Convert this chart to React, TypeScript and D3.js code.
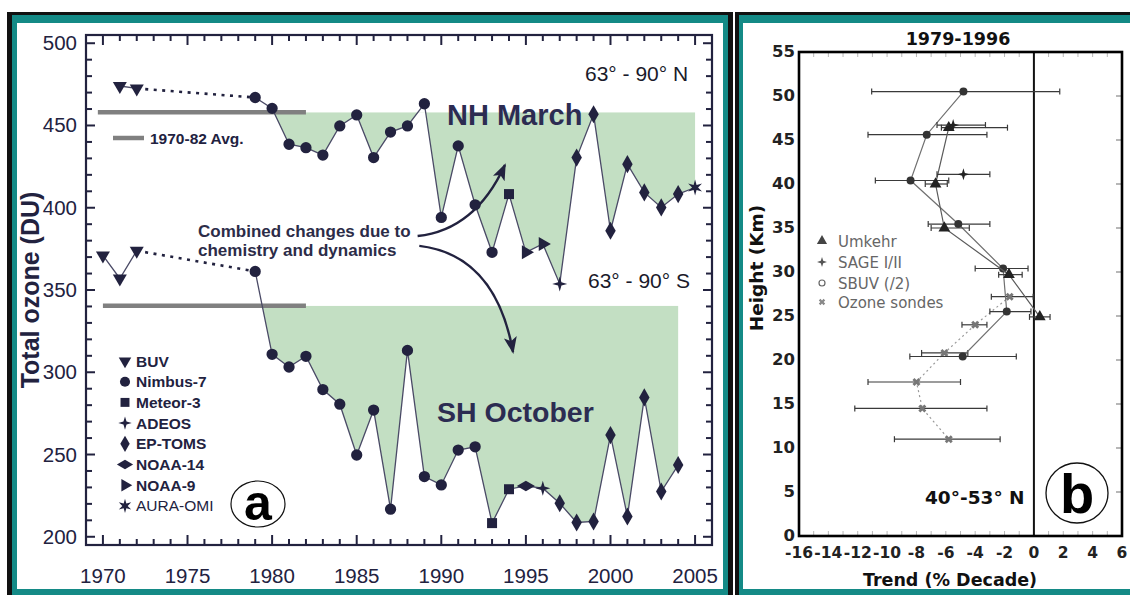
import React from 'react';
import * as d3 from 'd3';

// ---- panel a : polar total ozone ----
const nhYears = [1971, 1972, 1979, 1980, 1981, 1982, 1983, 1984, 1985, 1986, 1987, 1988, 1989, 1990, 1991, 1992, 1993, 1994, 1995, 1996, 1997, 1998, 1999, 2000, 2001, 2002, 2003, 2004, 2005];
const nhOzone = [474, 472.5, 467, 460.4, 438.6, 436.5, 432, 449.7, 456.4, 430.5, 446, 449.7, 463.2, 394.1, 437.6, 401.8, 372.9, 408.3, 372.9, 378, 353.7, 430.5, 456.8, 386, 426.5, 409.3, 400.2, 408.3, 412.3];
const nhSensor = ['BUV', 'BUV', 'Nimbus-7', 'Nimbus-7', 'Nimbus-7', 'Nimbus-7', 'Nimbus-7', 'Nimbus-7', 'Nimbus-7', 'Nimbus-7', 'Nimbus-7', 'Nimbus-7', 'Nimbus-7', 'Nimbus-7', 'Nimbus-7', 'Nimbus-7', 'Nimbus-7', 'Meteor-3', 'NOAA-9', 'NOAA-9', 'ADEOS', 'EP-TOMS', 'EP-TOMS', 'EP-TOMS', 'EP-TOMS', 'EP-TOMS', 'EP-TOMS', 'EP-TOMS', 'AURA-OMI'];

const shYears = [1970, 1971, 1972, 1979, 1980, 1981, 1982, 1983, 1984, 1985, 1986, 1987, 1988, 1989, 1990, 1991, 1992, 1993, 1994, 1995, 1996, 1997, 1998, 1999, 2000, 2001, 2002, 2003, 2004];
const shOzone = [371, 357, 373.9, 361.3, 310.9, 303.2, 309.7, 289.5, 280.6, 249.7, 277, 216.8, 313.3, 236.6, 231.5, 252.7, 254.7, 208.3, 228.9, 230.9, 229.5, 220.4, 208.7, 209.3, 261.8, 212.3, 284.7, 227.5, 243.6];
const shSensor = ['BUV', 'BUV', 'BUV', 'Nimbus-7', 'Nimbus-7', 'Nimbus-7', 'Nimbus-7', 'Nimbus-7', 'Nimbus-7', 'Nimbus-7', 'Nimbus-7', 'Nimbus-7', 'Nimbus-7', 'Nimbus-7', 'Nimbus-7', 'Nimbus-7', 'Nimbus-7', 'Meteor-3', 'Meteor-3', 'NOAA-14', 'ADEOS', 'EP-TOMS', 'EP-TOMS', 'EP-TOMS', 'EP-TOMS', 'EP-TOMS', 'EP-TOMS', 'EP-TOMS', 'EP-TOMS'];

const nhAvg = 458;
const shAvg = 340.5;
const nhAvgSpan = [1969.7, 1982];
const shAvgSpan = [1970, 1982];

const yearLabels = [1970, 1975, 1980, 1985, 1990, 1995, 2000, 2005];
const ozoneLabels = [200, 250, 300, 350, 400, 450, 500];
const sensorNames = ['BUV', 'Nimbus-7', 'Meteor-3', 'ADEOS', 'EP-TOMS', 'NOAA-14', 'NOAA-9', 'AURA-OMI'];

// ---- panel b : trend profile 1979-1996, 40-53N ----
const umkehrHeight = [46.4, 40.0, 35.0, 29.7, 24.9];
const umkehrTrend = [-5.8, -6.7, -6.1, -1.7, 0.4];
const umkehrLow = [-6.3, -7.4, -7.0, -2.4, -0.3];
const umkehrHigh = [-1.8, -5.9, -4.4, -0.8, 1.1];

const sageHeight = [46.7, 41.1];
const sageTrend = [-5.5, -4.8];
const sageLow = [-6.6, -6.6];
const sageHigh = [-3.3, -3.0];

const sbuvHeight = [50.5, 45.6, 40.4, 35.45, 30.4, 25.5, 20.4];
const sbuvTrend = [-4.8, -7.3, -8.4, -5.15, -2.1, -1.85, -4.85];
const sbuvLow = [-11.05, -11.3, -10.8, -7.2, -4.0, -3.0, -8.45];
const sbuvHigh = [1.76, -3.2, -5.8, -3.0, -0.4, -0.2, -1.2];

const sondeHeight = [27.2, 24.0, 20.8, 17.5, 14.5, 11.0];
const sondeTrend = [-1.65, -4.0, -6.1, -8.0, -7.6, -5.8];
const sondeLow = [-2.9, -4.9, -7.65, -11.3, -12.2, -9.5];
const sondeHigh = [-0.05, -3.2, -4.5, -5.0, -3.2, -2.3];

const trendLabels = [-16, -14, -12, -10, -8, -6, -4, -2, 0, 2, 4, 6];
const heightLabels = [0, 5, 10, 15, 20, 25, 30, 35, 40, 45, 50, 55];

const NAVY = '#22223f';
const TEAL = '#148a86';
const GREEN = '#c3dfc3';
const SANS = '"Liberation Sans", Arial, Helvetica, sans-serif';
const DJV = '"DejaVu Sans", Verdana, sans-serif';

const starPath = (n: number, ro: number, ri: number) => {
  const pts: string[] = [];
  for (let k = 0; k < 2 * n; k++) {
    const a = (k * Math.PI) / n - Math.PI / 2;
    const r = k % 2 ? ri : ro;
    pts.push(`${(r * Math.cos(a)).toFixed(2)},${(r * Math.sin(a)).toFixed(2)}`);
  }
  return 'M' + pts.join('L') + 'Z';
};

const sensorSymbol = (s: string, k = 1): { d: string; rot: number } => {
  switch (s) {
    case 'BUV': return { d: d3.symbol(d3.symbolTriangle, 85 * k)()!, rot: 180 };
    case 'Nimbus-7': return { d: d3.symbol(d3.symbolCircle, 100 * k)()!, rot: 0 };
    case 'Meteor-3': return { d: d3.symbol(d3.symbolSquare, 100 * k)()!, rot: 0 };
    case 'ADEOS': return { d: starPath(4, 7.5 * Math.sqrt(k), 2.4 * Math.sqrt(k)), rot: 0 };
    case 'EP-TOMS': return { d: d3.symbol(d3.symbolDiamond, 95 * k)()!, rot: 0 };
    case 'NOAA-14': return { d: d3.symbol(d3.symbolDiamond, 95 * k)()!, rot: 90 };
    case 'NOAA-9': return { d: d3.symbol(d3.symbolTriangle, 85 * k)()!, rot: 90 };
    default: return { d: starPath(6, 8 * Math.sqrt(k), 3 * Math.sqrt(k)), rot: 0 };
  }
};

const App = () => {
  // panel a scales
  const x = d3.scaleLinear().domain([1969, 2006]).range([86, 712]);
  const y = d3.scaleLinear().domain([195, 505]).range([545, 35]);
  // panel b scales
  const xb = d3.scaleLinear().domain([-16, 6]).range([799, 1122]);
  const yb = d3.scaleLinear().domain([0, 55]).range([536, 52]);

  const line = d3.line<[number, number]>().x(d => x(d[0])).y(d => y(d[1]));

  const hemisphere = (key: string, years: number[], vals: number[], sensors: string[], avg: number, span: number[]) => {
    const pts = years.map((yr, i) => [yr, vals[i]] as [number, number]);
    const buv = pts.filter((_, i) => sensors[i] === 'BUV');
    const rest = pts.filter((_, i) => sensors[i] !== 'BUV');
    const area = d3.area<[number, number]>().x(d => x(d[0])).y0(y(avg)).y1(d => y(d[1]));
    return (
      <g key={key}>
        <clipPath id={`clip-${key}`}>
          <rect x={x(rest[0][0])} y={y(avg)} width={x(2006) - x(rest[0][0])} height={545 - y(avg)} />
        </clipPath>
        <path d={area(rest)!} fill={GREEN} clipPath={`url(#clip-${key})`} />
        <line x1={x(span[0])} x2={x(span[1])} y1={y(avg)} y2={y(avg)} stroke="#808080" strokeWidth={4.5} />
        <path d={line(buv)!} fill="none" stroke="#4a4a66" strokeWidth={1.3} />
        <path d={line([buv[buv.length - 1], rest[0]])!} fill="none" stroke={NAVY} strokeWidth={2.6} strokeDasharray="3 5.5" />
        <path d={line(rest)!} fill="none" stroke="#4a4a66" strokeWidth={1.3} />
        {pts.map((p, i) => {
          const s = sensorSymbol(sensors[i]);
          return <path key={i} d={s.d} fill={NAVY} transform={`translate(${x(p[0])},${y(p[1])}) rotate(${s.rot})`} />;
        })}
      </g>
    );
  };

  const yearTicks = d3.range(1970, 2006);
  const ozoneTicks = d3.range(200, 501, 10);

  const profile = (key: string, hs: number[], ts: number[], lo: number[], hi: number[], marker: React.ReactNode, lineStyle: any) => (
    <g key={key}>
      {lineStyle && (
        <path d={d3.line<number>().x((_, i) => xb(ts[i])).y(h => yb(h))(hs)!} fill="none" {...lineStyle} />
      )}
      {hs.map((h, i) => (
        <g key={i}>
          <line x1={xb(lo[i])} x2={xb(hi[i])} y1={yb(h)} y2={yb(h)} stroke="#3a3a3a" strokeWidth={1.2} />
          <line x1={xb(lo[i])} x2={xb(lo[i])} y1={yb(h) - 3} y2={yb(h) + 3} stroke="#3a3a3a" strokeWidth={1.2} />
          <line x1={xb(hi[i])} x2={xb(hi[i])} y1={yb(h) - 3} y2={yb(h) + 3} stroke="#3a3a3a" strokeWidth={1.2} />
          <g transform={`translate(${xb(ts[i])},${yb(h)})`}>{marker}</g>
        </g>
      ))}
    </g>
  );

  const triUp = d3.symbol(d3.symbolTriangle, 60)()!;
  const cross = d3.symbol(d3.symbolCross, 40)()!;
  const upperArrow = `M${x(1988.6)},${y(382.8)} Q${x(1992)},${y(386.5)} ${x(1993.76)},${y(426)}`;
  const lowerArrow = `M${x(1988.7)},${y(376.8)} Q${x(1993.2)},${y(371.3)} ${x(1994.24)},${y(312.3)}`;

  return (
    <svg width={1130} height={595} style={{ position: 'absolute', left: 0, top: 0, background: '#fff' }}>
      <defs>
        <marker id="head" markerUnits="userSpaceOnUse" markerWidth={18} markerHeight={14} refX={15} refY={6.5} orient="auto">
          <path d="M0,0 L17,6.5 L0,13 L4,6.5 Z" fill={NAVY} />
        </marker>
      </defs>

      {/* frames */}
      <rect x={7} y={12} width={726} height={583} fill="#111" />
      <rect x={12} y={15} width={716} height={580} fill={TEAL} />
      <rect x={17} y={23} width={706} height={566} fill="#fff" />
      <rect x={735} y={12} width={395} height={583} fill="#111" />
      <rect x={739} y={15} width={391} height={580} fill={TEAL} />
      <rect x={743} y={23} width={387} height={566} fill="#fff" />

      {/* ===== panel a ===== */}
      {hemisphere('nh', nhYears, nhOzone, nhSensor, nhAvg, nhAvgSpan)}
      {hemisphere('sh', shYears, shOzone, shSensor, shAvg, shAvgSpan)}

      <rect x={86} y={35} width={626} height={510} fill="none" stroke={NAVY} strokeWidth={2.2} />
      {yearTicks.map(t => {
        const len = t % 5 === 0 ? 10 : 6;
        return (
          <g key={t} stroke={NAVY} strokeWidth={2}>
            <line x1={x(t)} x2={x(t)} y1={545} y2={545 - len} />
            <line x1={x(t)} x2={x(t)} y1={35} y2={35 + len} />
          </g>
        );
      })}
      {ozoneTicks.map(t => {
        const len = t % 50 === 0 ? 9 : 6;
        return (
          <g key={t} stroke={NAVY} strokeWidth={2}>
            <line x1={86} x2={86 + len} y1={y(t)} y2={y(t)} />
            <line x1={712} x2={712 - len} y1={y(t)} y2={y(t)} />
          </g>
        );
      })}
      {yearLabels.map(t => (
        <text key={t} x={x(t)} y={583} textAnchor="middle" fontFamily={SANS} fontSize={20.5} fill={NAVY}>{t}</text>
      ))}
      {ozoneLabels.map(t => (
        <text key={t} x={77} y={y(t) + 7} textAnchor="end" fontFamily={SANS} fontSize={20.5} fill={NAVY}>{t}</text>
      ))}
      <text transform="translate(39,290) rotate(-90)" textAnchor="middle" fontFamily={SANS} fontWeight="bold" fontSize={25} fill={NAVY}>Total ozone (DU)</text>

      <line x1={113} x2={144} y1={138} y2={138} stroke="#808080" strokeWidth={4.5} />
      <text x={150} y={144} fontFamily={SANS} fontWeight="bold" fontSize={15.5} fill={NAVY}>1970-82 Avg.</text>

      <text x={447} y={125} fontFamily={SANS} fontWeight="bold" fontSize={29} fill="#2c2c52">NH March</text>
      <text x={437} y={422} fontFamily={SANS} fontWeight="bold" fontSize={28.5} fill="#2c2c52">SH October</text>
      <text x={585} y={81} fontFamily={SANS} fontSize={21} fill="#1a1a2a">63° - 90° N</text>
      <text x={588} y={288} fontFamily={SANS} fontSize={21} fill="#1a1a2a">63° - 90° S</text>

      <text x={198} y={237} fontFamily={SANS} fontWeight="bold" fontSize={17} fill="#2c2c48">Combined changes due to</text>
      <text x={198} y={256} fontFamily={SANS} fontWeight="bold" fontSize={17} fill="#2c2c48">chemistry and dynamics</text>
      <path d={upperArrow} fill="none" stroke={NAVY} strokeWidth={2.4} markerEnd="url(#head)" />
      <path d={lowerArrow} fill="none" stroke={NAVY} strokeWidth={2.4} markerEnd="url(#head)" />

      {sensorNames.map((s, i) => {
        const m = sensorSymbol(s, 0.8);
        const cy = 361 + i * 20.7;
        return (
          <g key={s}>
            <path d={m.d} fill={NAVY} transform={`translate(125,${cy}) rotate(${m.rot})`} />
            <text x={136} y={cy + 5.5} fontFamily={SANS} fontWeight={s === 'AURA-OMI' ? 'normal' : 'bold'} fontSize={15.5} fill={NAVY}>{s}</text>
          </g>
        );
      })}
      <ellipse cx={258} cy={504} rx={27} ry={23} fill="#fff" stroke="#111" strokeWidth={1.2} />
      <text x={258} y={520} textAnchor="middle" fontFamily={SANS} fontWeight="bold" fontSize={50} fill="#000">a</text>

      {/* ===== panel b ===== */}
      <text x={958} y={45} textAnchor="middle" fontFamily={DJV} fontWeight="bold" fontSize={17.5} fill="#111">1979-1996</text>
      {d3.range(-16, 7, 1).map(t => (
        <g key={t} stroke="#b8b8b8" strokeWidth={1}>
          <line x1={xb(t)} x2={xb(t)} y1={52} y2={57} />
          <line x1={xb(t)} x2={xb(t)} y1={536} y2={531} />
        </g>
      ))}
      {heightLabels.map(h => (
        <g key={h}>
          <line x1={1122} x2={1116} y1={yb(h)} y2={yb(h)} stroke="#888" strokeWidth={1.2} />
          <text x={795} y={yb(h) + 5} textAnchor="end" fontFamily={DJV} fontWeight="bold" fontSize={16.5} fill="#222">{h}</text>
        </g>
      ))}
      {trendLabels.map(t => (
        <text key={t} x={xb(t)} y={558} textAnchor="middle" fontFamily={DJV} fontWeight="bold" fontSize={15.5} fill="#222">{t}</text>
      ))}
      <line x1={xb(0)} x2={xb(0)} y1={52} y2={536} stroke="#111" strokeWidth={2} />

      {profile('sonde', sondeHeight, sondeTrend, sondeLow, sondeHigh,
        <path d={cross} transform="rotate(45)" fill="#777" />,
        { stroke: '#9a9a9a', strokeWidth: 1.2, strokeDasharray: '2 3' })}
      {profile('sbuv', sbuvHeight, sbuvTrend, sbuvLow, sbuvHigh,
        <circle r={4} fill="#333" />,
        { stroke: '#707070', strokeWidth: 1.2 })}
      {profile('umkehr', umkehrHeight, umkehrTrend, umkehrLow, umkehrHigh,
        <path d={triUp} fill="#222" />,
        { stroke: '#5a5a5a', strokeWidth: 1.2 })}
      {profile('sage', sageHeight, sageTrend, sageLow, sageHigh,
        <path d={starPath(4, 6, 2)} fill="#222" />,
        null)}

      <rect x={799} y={52} width={323} height={484} fill="none" stroke="#000" strokeWidth={2.6} />

      <g fontFamily={DJV} fontSize={15} fill="#666">
        <path d={d3.symbol(d3.symbolTriangle, 45)()!} transform="translate(822,241)" fill="#444" />
        <text x={838} y={246.5}>Umkehr</text>
        <path d={starPath(4, 5, 1.7)} transform="translate(822,262)" fill="#555" />
        <text x={838} y={267.5}>SAGE I/II</text>
        <circle cx={822} cy={283} r={3} fill="none" stroke="#666" strokeWidth={1.2} />
        <text x={838} y={288.5}>SBUV (/2)</text>
        <path d={cross} transform="translate(822,302) rotate(45) scale(0.8)" fill="#888" />
        <text x={838} y={307.5}>Ozone sondes</text>
      </g>

      <text x={925} y={504} fontFamily={DJV} fontWeight="bold" fontSize={18.5} fill="#111">40°-53° N</text>
      <ellipse cx={1077} cy={493} rx={31} ry={30} fill="#fff" stroke="#111" strokeWidth={1.3} />
      <text x={1077} y={513} textAnchor="middle" fontFamily={SANS} fontWeight="bold" fontSize={56} fill="#000">b</text>

      <text transform="translate(763,268) rotate(-90)" textAnchor="middle" fontFamily={DJV} fontWeight="bold" fontSize={18.5} fill="#111">Height (Km)</text>
      <text x={950} y={586} textAnchor="middle" fontFamily={DJV} fontWeight="bold" fontSize={17.5} fill="#111">Trend (% Decade)</text>
    </svg>
  );
};

export default App;
